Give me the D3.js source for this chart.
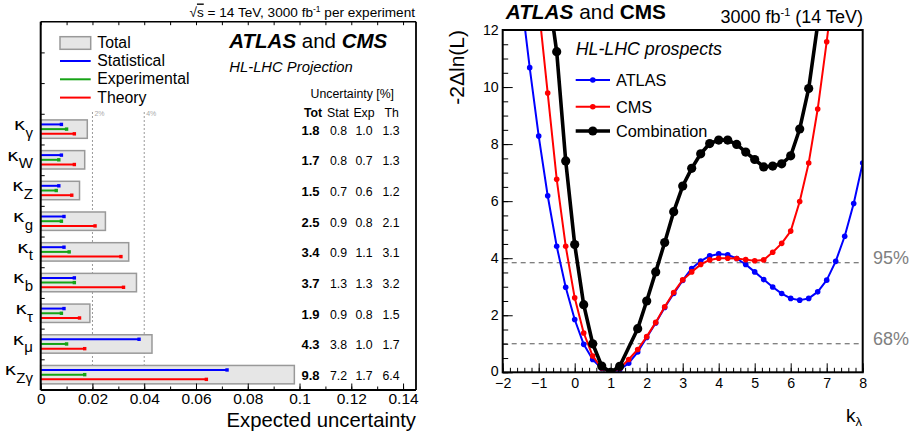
<!DOCTYPE html>
<html><head><meta charset="utf-8">
<script src="https://cdn.jsdelivr.net/npm/d3@7"></script>
<style>html,body{margin:0;padding:0;background:#fff;} svg{display:block;font-family:"Liberation Sans",Arial,Helvetica,sans-serif;}</style>
</head><body>
<svg id="c" width="911" height="434"></svg>
<script>
// ---------------- Left panel data ----------------
const couplings = ["γ","W","Z","g","t","b","τ","μ","Zγ"];
const totUnc  = [1.8,1.7,1.5,2.5,3.4,3.7,1.9,4.3,9.8];
const statUnc = [0.8,0.8,0.7,0.9,0.9,1.3,0.9,3.8,7.2];
const expUnc  = [1.0,0.7,0.6,0.8,1.1,1.3,0.8,1.0,1.7];
const thUnc   = [1.3,1.3,1.2,2.1,3.1,3.2,1.5,1.7,6.4];
const xTicksL = [0,0.02,0.04,0.06,0.08,0.1,0.12,0.14];
const refLines = [0.02,0.04];
const refLabels = ["2%","4%"];
const legendL = ["Total","Statistical","Experimental","Theory"];

// ---------------- Right panel data ----------------
const kl = [-1.5,-1.25,-1,-0.75,-0.5,-0.25,0,0.25,0.5,0.75,1,1.25,1.5,1.75,2,2.25,2.5,2.75,3,3.25,3.5,3.75,4,4.25,4.5,4.75,5,5.25,5.5,5.75,6,6.25,6.5,6.75,7,7.25,7.5,7.75,8];
const atlas = [13.3,10.68,8.28,6.19,4.42,2.98,1.85,0.98,0.45,0.13,0,0.09,0.32,0.71,1.22,1.73,2.27,2.76,3.22,3.64,3.9,4.08,4.15,4.12,3.99,3.78,3.52,3.25,2.99,2.76,2.59,2.53,2.59,2.82,3.23,3.89,4.77,5.92,7.34];
const cms   = [null,null,12.8,9.79,6.77,4.42,2.61,1.38,0.57,0.15,0,0.14,0.45,0.8,1.25,1.75,2.3,2.8,3.24,3.52,3.78,3.94,4.0,4.0,3.99,3.95,3.91,3.94,4.21,4.52,4.95,5.99,7.34,9.23,11.59,14.2,null,null,null];
const comb  = [null,null,null,13.5,11.24,7.41,4.48,2.37,1.0,0.22,0,0.21,null,1.53,2.5,3.52,4.55,5.63,6.53,7.15,7.66,8.02,8.14,8.14,7.99,7.72,7.46,7.2,7.23,7.31,7.59,8.53,9.95,12.2,null,null,null,null,null];
const xTicksR = [-2,-1,0,1,2,3,4,5,6,7,8];
const yTicksR = [0,2,4,6,8,10,12];
const clLevels = [1,3.84];
const clLabels = ["68%","95%"];
const seriesNames = ["ATLAS","CMS","Combination"];

const svg = d3.select("#c");

// =============== LEFT PANEL ===============
const xL = d3.scaleLinear([0,0.145],[40.7,416]);
const yRow = d3.scaleLinear([0,12],[390,21.7]);
const rowC = i => yRow(8.5 - i);
const L = svg.append("g");

// dotted reference lines
refLines.forEach((v,j)=>{
  L.append("line").attr("x1",xL(v)).attr("x2",xL(v)).attr("y1",112).attr("y2",390)
    .attr("stroke","#999").attr("stroke-width",1).attr("stroke-dasharray","2,2");
  L.append("text").attr("x",xL(v)+2).attr("y",116).attr("font-size",7).attr("fill","#aaa").text(refLabels[j]);
});

// bars
couplings.forEach((c,i)=>{
  const cy = rowC(i);
  L.append("rect").attr("x",xL(0)).attr("y",cy-9.2).attr("width",xL(totUnc[i]/100)-xL(0)).attr("height",18.4)
    .attr("fill","#e6e6e6").attr("stroke","#999").attr("stroke-width",1.5);
  [[statUnc,"#0000ff",-4.7],[expUnc,"#16a316",0],[thUnc,"#ff0000",4.7]].forEach(([arr,col,off])=>{
    const xe = xL(arr[i]/100);
    L.append("line").attr("x1",xL(0)).attr("x2",xe).attr("y1",cy+off).attr("y2",cy+off)
      .attr("stroke",col).attr("stroke-width",2);
    L.append("rect").attr("x",xe-1.7).attr("y",cy+off-1.7).attr("width",3.4).attr("height",3.4).attr("fill",col);
  });
  // label: subscript first, then stretched kappa to its left
  const sub = L.append("text").attr("x",33).attr("y",cy+8.5).attr("text-anchor","end").attr("font-size",15).text(c);
  const w = sub.node().getComputedTextLength();
  L.append("text").attr("transform",`translate(${33-w},${cy+0.8}) scale(1.3,1)`).attr("text-anchor","end")
    .attr("font-family","DejaVu Sans").attr("font-size",15.5).text("κ");
  // table values
  L.append("text").attr("x",310.5).attr("y",cy+5.5).attr("text-anchor","middle").attr("font-size",13).attr("font-weight","bold").text(totUnc[i].toFixed(1));
  [[statUnc,338.5],[expUnc,364],[thUnc,391]].forEach(([arr,x])=>{
    L.append("text").attr("x",x).attr("y",cy+5.5).attr("text-anchor","middle").attr("font-size",12.3).text(arr[i].toFixed(1));
  });
});

// table header
L.append("text").attr("x",394).attr("y",97.5).attr("text-anchor","end").attr("font-size",12.3).text("Uncertainty [%]");
[["Tot",313,"bold"],["Stat",338,"normal"],["Exp",364,"normal"],["Th",391.7,"normal"]].forEach(([s,x,w])=>{
  L.append("text").attr("x",x).attr("y",116.5).attr("text-anchor","middle").attr("font-size",12.3).attr("font-weight",w).text(s);
});

// axes
L.append("g").attr("transform","translate(0,390)")
  .call(d3.axisBottom(xL).tickValues(d3.range(0,0.1451,0.01)).tickSizeInner(-3.5).tickSizeOuter(0).tickFormat(""))
  .call(g=>g.select(".domain").remove());
L.append("g").attr("transform","translate(0,390)")
  .call(d3.axisBottom(xL).tickValues(xTicksL).tickSizeInner(-6.5).tickSizeOuter(0).tickPadding(3)
    .tickFormat(d=> d===0 ? "0" : String(+d.toFixed(2))))
  .call(g=>{g.select(".domain").remove(); g.selectAll("text").attr("font-size",15.5).attr("fill","#000").attr("font-family","Liberation Sans, Arial, sans-serif");});
L.append("g").attr("transform","translate(0,21.7)")
  .call(d3.axisTop(xL).tickValues(d3.range(0,0.1451,0.01)).tickSizeInner(-3.5).tickSizeOuter(0).tickFormat(""))
  .call(g=>g.select(".domain").remove());
L.append("g").attr("transform","translate(40.7,0)")
  .call(d3.axisLeft(yRow).tickValues(d3.range(1,12)).tickSizeInner(-4).tickSizeOuter(0).tickFormat(""))
  .call(g=>g.select(".domain").remove());
// frame
L.append("line").attr("x1",40.7).attr("x2",416).attr("y1",21.7).attr("y2",21.7).attr("stroke","#000").attr("stroke-width",1.5);
L.append("line").attr("x1",416).attr("x2",416).attr("y1",21.7).attr("y2",390).attr("stroke","#000").attr("stroke-width",1.8);
L.append("line").attr("x1",40.7).attr("x2",416).attr("y1",390).attr("y2",390).attr("stroke","#000").attr("stroke-width",2);
L.append("line").attr("x1",40.7).attr("x2",40.7).attr("y1",21.7).attr("y2",390).attr("stroke","#000").attr("stroke-width",2);

L.append("text").attr("x",416).attr("y",427).attr("text-anchor","end").attr("font-size",20.3).text("Expected uncertainty");

// legend
const legY = [42.5,61,79.3,97.6];
L.append("rect").attr("x",60).attr("y",36.7).attr("width",30.7).attr("height",12.6).attr("fill","#e6e6e6").attr("stroke","#999").attr("stroke-width",1.5);
[["#0000ff",1],["#16a316",2],["#ff0000",3]].forEach(([col,k])=>{
  L.append("line").attr("x1",60).attr("x2",90.7).attr("y1",legY[k]).attr("y2",legY[k]).attr("stroke",col).attr("stroke-width",2);
});
legendL.forEach((s,k)=>{
  L.append("text").attr("x",97.3).attr("y",legY[k]+5).attr("font-size",15.8).text(s);
});

// titles
const tl = L.append("text").attr("x",229.3).attr("y",48.3).attr("font-size",20.5);
tl.append("tspan").attr("font-weight","bold").attr("font-style","italic").text("ATLAS");
tl.append("tspan").text(" and ");
tl.append("tspan").attr("font-weight","bold").attr("font-style","italic").text("CMS");
L.append("text").attr("x",229.3).attr("y",71.7).attr("font-size",14.8).attr("font-style","italic").text("HL-LHC Projection");

const ts = L.append("text").attr("x",415).attr("y",16.5).attr("text-anchor","end").attr("font-size",13.6);
ts.append("tspan").text("√");
ts.append("tspan").attr("style","text-decoration:overline").text("s");
ts.append("tspan").text(" = 14 TeV, 3000 fb");
ts.append("tspan").attr("font-size",8.5).attr("dy",-5).text("-1");
ts.append("tspan").attr("dy",5).text(" per experiment");

// =============== RIGHT PANEL ===============
const xR = d3.scaleLinear([-2,8],[502.7,862.7]);
const yR = d3.scaleLinear([0,12],[372.3,30]);
const R = svg.append("g");

svg.append("defs").append("clipPath").attr("id","clipR")
  .append("rect").attr("x",xR(-2)).attr("y",yR(12)).attr("width",xR(8)-xR(-2)).attr("height",yR(0)-yR(12));

// CL lines
clLevels.forEach((v,j)=>{
  R.append("line").attr("x1",xR(-2)).attr("x2",xR(8)).attr("y1",yR(v)).attr("y2",yR(v))
    .attr("stroke","#555").attr("stroke-width",1).attr("stroke-dasharray","5,4");
  R.append("text").attr("x",873).attr("y",yR(v)+1.5).attr("font-size",18).attr("fill","#808080").text(clLabels[j]);
});

const series = [
  {vals: atlas, col:"#0000ff", lw:2, r:2.8},
  {vals: cms, col:"#ff0000", lw:2, r:2.8},
  {vals: comb, col:"#000000", lw:3.6, r:4.6}
];
const plot = R.append("g").attr("clip-path","url(#clipR)");
series.forEach(s=>{
  const pts = kl.map((k,i)=>[k,s.vals[i]]).filter(p=>p[1]!==null);
  plot.append("path").attr("d",d3.line().x(p=>xR(p[0])).y(p=>yR(p[1]))(pts))
    .attr("fill","none").attr("stroke",s.col).attr("stroke-width",s.lw).attr("stroke-linejoin","round");
  plot.selectAll(null).data(pts).enter().append("circle")
    .attr("cx",p=>xR(p[0])).attr("cy",p=>yR(p[1])).attr("r",s.r).attr("fill",s.col);
});

// axes
R.append("g").attr("transform",`translate(0,${yR(0)})`)
  .call(d3.axisBottom(xR).tickValues(d3.range(-2,8.001,0.2)).tickSizeInner(-4.5).tickSizeOuter(0).tickFormat(""))
  .call(g=>g.select(".domain").remove());
R.append("g").attr("transform",`translate(0,${yR(0)})`)
  .call(d3.axisBottom(xR).tickValues(xTicksR).tickSizeInner(-9).tickSizeOuter(0).tickPadding(6))
  .call(g=>{g.select(".domain").remove(); g.selectAll("text").attr("font-size",14.2).attr("fill","#000").attr("font-family","Liberation Sans, Arial, sans-serif");});
R.append("g").attr("transform",`translate(${xR(-2)},0)`)
  .call(d3.axisLeft(yR).tickValues(d3.range(0,12.001,0.5)).tickSizeInner(-5.5).tickSizeOuter(0).tickFormat(""))
  .call(g=>g.select(".domain").remove());
R.append("g").attr("transform",`translate(${xR(-2)},0)`)
  .call(d3.axisLeft(yR).tickValues(yTicksR).tickSizeInner(-10).tickSizeOuter(0).tickPadding(4))
  .call(g=>{g.select(".domain").remove(); g.selectAll("text").attr("font-size",14.2).attr("fill","#000").attr("font-family","Liberation Sans, Arial, sans-serif");
    g.selectAll("text").filter(d=>d===0).attr("dy","0.2em");});
// frame
R.append("rect").attr("x",xR(-2)).attr("y",yR(12)).attr("width",xR(8)-xR(-2)).attr("height",yR(0)-yR(12))
  .attr("fill","none").attr("stroke","#000").attr("stroke-width",2);

// legend
R.append("text").attr("x",575.7).attr("y",55).attr("font-size",17.8).attr("font-style","italic").text("HL-LHC prospects");
const legYR = [80,106.7,131];
series.forEach((s,k)=>{
  R.append("line").attr("x1",575.7).attr("x2",610).attr("y1",legYR[k]).attr("y2",legYR[k]).attr("stroke",s.col).attr("stroke-width",s.lw);
  R.append("circle").attr("cx",592.8).attr("cy",legYR[k]).attr("r",s.r).attr("fill",s.col);
  R.append("text").attr("x",616).attr("y",legYR[k]+5.8).attr("font-size",16.3).text(seriesNames[k]);
});

// titles
const tr = R.append("text").attr("x",505.7).attr("y",19.3).attr("font-size",20.8);
tr.append("tspan").attr("font-weight","bold").attr("font-style","italic").text("ATLAS");
tr.append("tspan").text(" and ");
tr.append("tspan").attr("font-weight","bold").text("CMS");
const tl2 = R.append("text").attr("x",863).attr("y",23.3).attr("text-anchor","end").attr("font-size",18);
tl2.append("tspan").text("3000 fb");
tl2.append("tspan").attr("font-size",11).attr("dy",-7).text("-1");
tl2.append("tspan").attr("dy",7).text(" (14 TeV)");

// axis titles
R.append("text").attr("transform","translate(464,30) rotate(-90)").attr("text-anchor","end").attr("font-size",21).text("-2Δln(L)");
const xl = R.append("text").attr("x",862).attr("y",421.7).attr("text-anchor","end").attr("font-size",19);
xl.append("tspan").text("k");
xl.append("tspan").attr("font-size",13).attr("dy",4).text("λ");
</script>
</body></html>
